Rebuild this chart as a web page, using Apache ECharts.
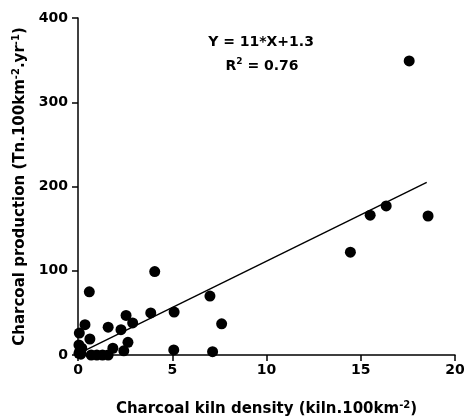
<!DOCTYPE html>
<html>
<head>
<meta charset="utf-8">
<script src="https://cdn.jsdelivr.net/npm/echarts@6/dist/echarts.min.js"></script>
<style>html,body{margin:0;padding:0;background:#fff}#c{width:464px;height:416px}</style>
</head>
<body>
<div id="c"></div>
<script>
var kilnDensity = [0.05, 0.1, 0.15, 0.2, 0.05, 0.07, 0.37, 0.63, 0.6, 0.7, 1.0, 1.3, 1.6, 1.85, 1.6, 2.28, 2.43, 2.55, 2.65, 2.9, 3.86, 4.07, 5.1, 5.08, 7.0, 7.14, 7.62, 14.45, 15.5, 16.35, 17.57, 18.57];
var production  = [2, 5, 1, 8, 12, 26, 36, 19, 75, 0, 0, 0, 0, 8, 33, 30, 5, 47, 15, 38, 50, 99, 51, 6, 70, 4, 37, 122, 166, 177, 349, 165];
var fitX = [0, 18.5];
var fitSlope = 11, fitIntercept = 1.3;
var xTicks = [0, 5, 10, 15, 20];
var yTicks = [0, 100, 200, 300, 400];

var pts = kilnDensity.map(function (x, i) { return [x, production[i]]; });
var fitLine = fitX.map(function (x) { return [x, fitSlope * x + fitIntercept]; });
var F = '"DejaVu Sans", Verdana, sans-serif';
var sup = { fontSize: 10, fontWeight: 'bold', fontFamily: F, color: '#000', verticalAlign: 'top', lineHeight: 18 };
var norm = { fontSize: 15, fontWeight: 'bold', fontFamily: F, color: '#000', lineHeight: 18 };
var supA = { fontSize: 9, fontWeight: 'bold', fontFamily: F, color: '#000', verticalAlign: 'top', lineHeight: 17 };
var normA = { fontSize: 14, fontWeight: 'bold', fontFamily: F, color: '#000', lineHeight: 17 };

var chart = echarts.init(document.getElementById('c'));
chart.setOption({
  animation: false,
  backgroundColor: '#fff',
  grid: { left: 78, right: 9, top: 18, bottom: 61, containLabel: false, outerBoundsMode: 'none' },
  xAxis: {
    type: 'value', min: 0, max: 20, interval: 5,
    splitLine: { show: false },
    axisLine: { show: true, onZero: false, lineStyle: { color: '#000', width: 1.5 } },
    axisTick: { show: true, length: 6, lineStyle: { color: '#000', width: 1.5 } },
    axisLabel: { color: '#000', fontWeight: 'bold', fontSize: 14, fontFamily: F, margin: 8,
      formatter: function (v) { return xTicks.indexOf(v) >= 0 ? String(v) : ''; } },
    name: '{n|Charcoal kiln density (kiln.100km}{s|-2}{n|)}',
    nameLocation: 'middle', nameGap: 45,
    nameTextStyle: { rich: { n: norm, s: sup } }
  },
  yAxis: {
    type: 'value', min: 0, max: 400, interval: 100,
    splitLine: { show: false },
    axisLine: { show: true, onZero: false, lineStyle: { color: '#000', width: 1.5 } },
    axisTick: { show: true, length: 6, lineStyle: { color: '#000', width: 1.5 } },
    axisLabel: { color: '#000', fontWeight: 'bold', fontSize: 14, fontFamily: F, margin: 10,
      formatter: function (v) { return yTicks.indexOf(v) >= 0 ? String(v) : ''; } },
    name: '{n|Charcoal production (Tn.100km}{s|-2}{n|.yr}{s|-1}{n|)}',
    nameLocation: 'middle', nameGap: 49,
    nameTextStyle: { rich: { n: norm, s: sup } }
  },
  graphic: [
    { type: 'text', style: {
      text: 'Y = 11*X+1.3', x: 261, y: 42, align: 'center', verticalAlign: 'middle',
      font: 'bold 14px ' + F, fill: '#000' } },
    { type: 'text', style: {
      text: '{n|R}{s|2}{n| = 0.76}', x: 262, y: 66, align: 'center', verticalAlign: 'middle',
      rich: { n: normA, s: supA } } }
  ],
  series: [
    { type: 'line', data: fitLine, symbol: 'none', lineStyle: { color: '#000', width: 1.4 }, z: 2 },
    { type: 'scatter', data: pts, symbol: 'circle', symbolSize: 11, itemStyle: { color: '#000', opacity: 1 }, z: 3 }
  ]
});
</script>
</body>
</html>
